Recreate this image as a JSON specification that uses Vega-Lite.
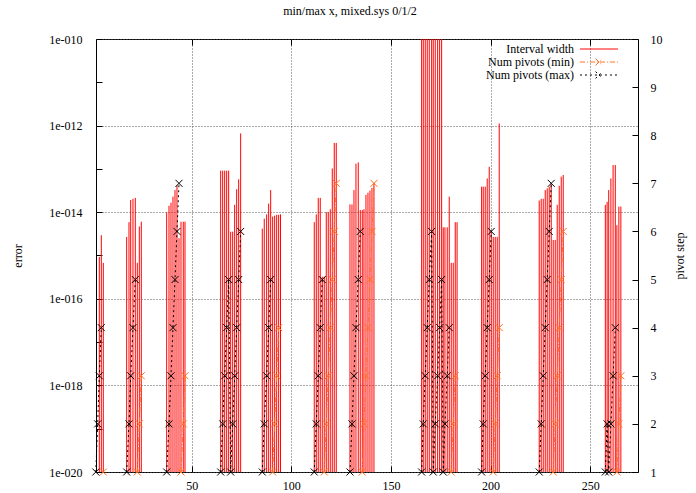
{
  "$schema": "https://vega.github.io/schema/vega-lite/v6.json",
  "width": 542,
  "height": 433,
  "autosize": {"type": "none"},
  "padding": {"left": 96, "top": 39, "right": 58, "bottom": 21},
  "background": "white",
  "config": {
    "font": "Liberation Serif",
    "view": {"stroke": "black", "strokeWidth": 1},
    "axis": {
      "labelFont": "Liberation Serif", "labelFontSize": 12, "labelColor": "black",
      "titleFont": "Liberation Serif", "titleFontSize": 12, "titleFontWeight": "normal", "titleColor": "black",
      "tickColor": "black", "domain": false, "gridColor": "#555555", "gridDash": [1, 2], "gridOpacity": 1
    },
    "legend": {
      "orient": "none", "legendX": 497, "legendY": 4, "padding": 0,
      "symbolType": "M-5,0L5,0", "symbolSize": 58, "symbolStrokeWidth": 1,
      "labelFont": "Liberation Serif", "labelFontSize": 12, "labelColor": "black",
      "labelAlign": "right", "labelOffset": -31, "rowPadding": 1
    }
  },
  "title": {"text": "min/max x, mixed.sys 0/1/2", "font": "Liberation Serif", "fontSize": 12, "fontWeight": "normal", "color": "black", "offset": 15, "dx": -17},
  "datasets": {
    "imp": [
      {"x": 3.66, "w": 9.3e-16}, {"x": 4.66, "w": 2.95e-15}, {"x": 5.66, "w": 6.76e-16},
      {"x": 17.4, "w": 2.69e-15}, {"x": 18.56, "w": 5.89e-15}, {"x": 19.41, "w": 1.91e-14}, {"x": 20.56, "w": 2.04e-14}, {"x": 21.72, "w": 2.14e-14}, {"x": 22.72, "w": 6.76e-16}, {"x": 23.73, "w": 4.68e-15}, {"x": 24.73, "w": 6.03e-15},
      {"x": 37.47, "w": 1.0e-14}, {"x": 38.63, "w": 1.41e-14}, {"x": 39.63, "w": 1.66e-14}, {"x": 40.63, "w": 2.29e-14}, {"x": 41.64, "w": 3.24e-14}, {"x": 42.64, "w": 4.17e-14}, {"x": 43.65, "w": 2.51e-15}, {"x": 44.65, "w": 6.03e-15}, {"x": 45.8, "w": 6.03e-15}, {"x": 46.66, "w": 6.03e-15},
      {"x": 64.57, "w": 9.12e-14}, {"x": 65.57, "w": 9.12e-14}, {"x": 66.58, "w": 9.12e-14}, {"x": 67.58, "w": 9.12e-14}, {"x": 68.58, "w": 9.12e-14}, {"x": 69.59, "w": 3.55e-15}, {"x": 70.59, "w": 3.55e-15}, {"x": 71.59, "w": 1.48e-14}, {"x": 72.6, "w": 3.39e-14}, {"x": 73.6, "w": 5.75e-14}, {"x": 74.6, "w": 6.61e-13},
      {"x": 85.44, "w": 4.17e-15}, {"x": 86.44, "w": 7.08e-15}, {"x": 87.65, "w": 8.91e-15}, {"x": 88.65, "w": 1.58e-14}, {"x": 89.66, "w": 3.24e-14}, {"x": 90.66, "w": 7.94e-15}, {"x": 91.66, "w": 8.32e-15}, {"x": 92.67, "w": 8.71e-15}, {"x": 93.67, "w": 8.71e-15}, {"x": 94.6, "w": 8.91e-15},
      {"x": 111.53, "w": 5.89e-15}, {"x": 112.54, "w": 8.91e-15}, {"x": 113.54, "w": 2.14e-14}, {"x": 114.54, "w": 2.14e-14}, {"x": 115.55, "w": 3.24e-16}, {"x": 116.55, "w": 3.24e-16}, {"x": 117.55, "w": 1.0e-14}, {"x": 118.56, "w": 1.0e-14}, {"x": 119.56, "w": 1.17e-14}, {"x": 120.57, "w": 1.02e-13}, {"x": 121.57, "w": 3.98e-13}, {"x": 122.57, "w": 3.98e-13},
      {"x": 129.45, "w": 1.51e-14}, {"x": 130.46, "w": 1.51e-14}, {"x": 131.46, "w": 3.24e-14}, {"x": 132.46, "w": 1.32e-13}, {"x": 133.61, "w": 1.41e-13}, {"x": 134.62, "w": 1.12e-14}, {"x": 135.62, "w": 1.12e-14}, {"x": 136.47, "w": 1.17e-14}, {"x": 137.48, "w": 2.51e-14}, {"x": 138.48, "w": 2.82e-14}, {"x": 139.48, "w": 3.16e-14}, {"x": 140.49, "w": 3.63e-14}, {"x": 141.49, "w": 4.68e-14},
      {"x": 165.42, "w": 1e-9}, {"x": 166.23, "w": 1e-9}, {"x": 167.23, "w": 1e-9}, {"x": 168.23, "w": 1e-9}, {"x": 169.24, "w": 1e-9}, {"x": 170.44, "w": 1e-9}, {"x": 171.24, "w": 1e-9}, {"x": 172.25, "w": 1e-9}, {"x": 173.45, "w": 1e-9}, {"x": 174.45, "w": 1e-9}, {"x": 175.46, "w": 1e-9}, {"x": 176.26, "w": 4.47e-15}, {"x": 177.12, "w": 4.47e-15}, {"x": 178.27, "w": 4.47e-15}, {"x": 179.27, "w": 2.29e-14}, {"x": 180.28, "w": 6.76e-16}, {"x": 181.28, "w": 6.76e-16}, {"x": 182.28, "w": 5.89e-15}, {"x": 183.2, "w": 5.89e-15},
      {"x": 195.52, "w": 3.89e-14}, {"x": 196.33, "w": 3.89e-14}, {"x": 197.33, "w": 3.89e-14}, {"x": 198.33, "w": 6.03e-14}, {"x": 199.34, "w": 1.12e-13}, {"x": 200.34, "w": 3.89e-15}, {"x": 201.35, "w": 2.69e-15}, {"x": 202.35, "w": 2.69e-15}, {"x": 203.35, "w": 2.69e-15}, {"x": 204.36, "w": 1.12e-12},
      {"x": 224.43, "w": 1.86e-14}, {"x": 225.43, "w": 2.04e-14}, {"x": 226.44, "w": 2.04e-14}, {"x": 227.44, "w": 3.24e-14}, {"x": 228.44, "w": 3.55e-14}, {"x": 229.45, "w": 3.89e-14}, {"x": 230.45, "w": 4.68e-14}, {"x": 231.45, "w": 2.29e-15}, {"x": 232.46, "w": 2.29e-15}, {"x": 233.46, "w": 1.48e-14}, {"x": 234.47, "w": 4.07e-14}, {"x": 235.47, "w": 6.61e-14}, {"x": 236.47, "w": 7.24e-14},
      {"x": 257.6, "w": 1.48e-14}, {"x": 258.5, "w": 1.74e-14}, {"x": 259.3, "w": 3.24e-14}, {"x": 260.4, "w": 6.03e-14}, {"x": 261.5, "w": 1.23e-13}, {"x": 262.6, "w": 1.23e-13}, {"x": 263.4, "w": 5.01e-15}, {"x": 264.4, "w": 1.35e-14}, {"x": 265.4, "w": 1.35e-14}
    ],
    "piv": [
      {"g": 1, "s": "max", "x": 1.9, "p": 1}, {"g": 1, "s": "max", "x": 2.85, "p": 2}, {"g": 1, "s": "max", "x": 3.66, "p": 3}, {"g": 1, "s": "max", "x": 4.66, "p": 4},
      {"g": 1, "s": "min", "x": 5.66, "p": 1},
      {"g": 2, "s": "max", "x": 17.4, "p": 1}, {"g": 2, "s": "max", "x": 18.56, "p": 2}, {"g": 2, "s": "max", "x": 19.41, "p": 3}, {"g": 2, "s": "max", "x": 20.56, "p": 4}, {"g": 2, "s": "max", "x": 21.72, "p": 5},
      {"g": 2, "s": "min", "x": 22.72, "p": 1}, {"g": 2, "s": "min", "x": 23.73, "p": 2}, {"g": 2, "s": "min", "x": 24.73, "p": 3},
      {"g": 3, "s": "max", "x": 37.47, "p": 1}, {"g": 3, "s": "max", "x": 38.63, "p": 2}, {"g": 3, "s": "max", "x": 39.63, "p": 3}, {"g": 3, "s": "max", "x": 40.63, "p": 4}, {"g": 3, "s": "max", "x": 41.64, "p": 5}, {"g": 3, "s": "max", "x": 42.64, "p": 6}, {"g": 3, "s": "max", "x": 43.65, "p": 7},
      {"g": 3, "s": "min", "x": 44.65, "p": 1}, {"g": 3, "s": "min", "x": 45.8, "p": 2}, {"g": 3, "s": "min", "x": 46.66, "p": 3},
      {"g": 4, "s": "max", "x": 64.57, "p": 1}, {"g": 4, "s": "max", "x": 65.57, "p": 2}, {"g": 4, "s": "max", "x": 66.58, "p": 3}, {"g": 4, "s": "max", "x": 67.58, "p": 4}, {"g": 4, "s": "max", "x": 68.58, "p": 5}, {"g": 4, "s": "max", "x": 69.59, "p": 1}, {"g": 4, "s": "max", "x": 70.59, "p": 2}, {"g": 4, "s": "max", "x": 71.59, "p": 3}, {"g": 4, "s": "max", "x": 72.6, "p": 4}, {"g": 4, "s": "max", "x": 73.6, "p": 5}, {"g": 4, "s": "max", "x": 74.6, "p": 6},
      {"g": 5, "s": "max", "x": 85.44, "p": 1}, {"g": 5, "s": "max", "x": 86.44, "p": 2}, {"g": 5, "s": "max", "x": 87.65, "p": 3}, {"g": 5, "s": "max", "x": 88.65, "p": 4}, {"g": 5, "s": "max", "x": 89.66, "p": 5},
      {"g": 5, "s": "min", "x": 90.66, "p": 1}, {"g": 5, "s": "min", "x": 91.66, "p": 2}, {"g": 5, "s": "min", "x": 92.67, "p": 3}, {"g": 5, "s": "min", "x": 93.67, "p": 4},
      {"g": 6, "s": "max", "x": 111.53, "p": 1}, {"g": 6, "s": "max", "x": 112.54, "p": 2}, {"g": 6, "s": "max", "x": 113.54, "p": 3}, {"g": 6, "s": "max", "x": 114.54, "p": 4}, {"g": 6, "s": "max", "x": 115.55, "p": 5},
      {"g": 6, "s": "min", "x": 116.55, "p": 1}, {"g": 6, "s": "min", "x": 117.55, "p": 2}, {"g": 6, "s": "min", "x": 118.56, "p": 3}, {"g": 6, "s": "min", "x": 119.56, "p": 4}, {"g": 6, "s": "min", "x": 120.57, "p": 5}, {"g": 6, "s": "min", "x": 121.57, "p": 6}, {"g": 6, "s": "min", "x": 122.57, "p": 7},
      {"g": 7, "s": "max", "x": 129.45, "p": 1}, {"g": 7, "s": "max", "x": 130.46, "p": 2}, {"g": 7, "s": "max", "x": 131.46, "p": 3}, {"g": 7, "s": "max", "x": 132.46, "p": 4}, {"g": 7, "s": "max", "x": 133.61, "p": 5}, {"g": 7, "s": "max", "x": 134.62, "p": 6},
      {"g": 7, "s": "min", "x": 135.62, "p": 1}, {"g": 7, "s": "min", "x": 136.47, "p": 2}, {"g": 7, "s": "min", "x": 137.48, "p": 3}, {"g": 7, "s": "min", "x": 138.48, "p": 4}, {"g": 7, "s": "min", "x": 139.48, "p": 5}, {"g": 7, "s": "min", "x": 140.49, "p": 6}, {"g": 7, "s": "min", "x": 141.49, "p": 7},
      {"g": 8, "s": "max", "x": 165.42, "p": 1}, {"g": 8, "s": "max", "x": 166.23, "p": 2}, {"g": 8, "s": "max", "x": 167.23, "p": 3}, {"g": 8, "s": "max", "x": 168.23, "p": 4}, {"g": 8, "s": "max", "x": 169.24, "p": 5}, {"g": 8, "s": "max", "x": 170.44, "p": 6}, {"g": 8, "s": "max", "x": 171.24, "p": 1}, {"g": 8, "s": "max", "x": 172.25, "p": 2}, {"g": 8, "s": "max", "x": 173.45, "p": 3}, {"g": 8, "s": "max", "x": 174.45, "p": 4}, {"g": 8, "s": "max", "x": 175.46, "p": 5}, {"g": 8, "s": "max", "x": 176.26, "p": 1}, {"g": 8, "s": "max", "x": 177.12, "p": 2}, {"g": 8, "s": "max", "x": 178.27, "p": 3}, {"g": 8, "s": "max", "x": 179.27, "p": 4},
      {"g": 8, "s": "min", "x": 180.28, "p": 1}, {"g": 8, "s": "min", "x": 181.28, "p": 2}, {"g": 8, "s": "min", "x": 182.28, "p": 3},
      {"g": 9, "s": "max", "x": 195.52, "p": 1}, {"g": 9, "s": "max", "x": 196.33, "p": 2}, {"g": 9, "s": "max", "x": 197.33, "p": 3}, {"g": 9, "s": "max", "x": 198.33, "p": 4}, {"g": 9, "s": "max", "x": 199.34, "p": 5}, {"g": 9, "s": "max", "x": 200.34, "p": 6},
      {"g": 9, "s": "min", "x": 201.35, "p": 1}, {"g": 9, "s": "min", "x": 202.35, "p": 2}, {"g": 9, "s": "min", "x": 203.35, "p": 3}, {"g": 9, "s": "min", "x": 204.36, "p": 4},
      {"g": 10, "s": "max", "x": 224.43, "p": 1}, {"g": 10, "s": "max", "x": 225.43, "p": 2}, {"g": 10, "s": "max", "x": 226.44, "p": 3}, {"g": 10, "s": "max", "x": 227.44, "p": 4}, {"g": 10, "s": "max", "x": 228.44, "p": 5}, {"g": 10, "s": "max", "x": 229.45, "p": 6}, {"g": 10, "s": "max", "x": 230.45, "p": 7},
      {"g": 10, "s": "min", "x": 231.45, "p": 1}, {"g": 10, "s": "min", "x": 232.46, "p": 2}, {"g": 10, "s": "min", "x": 233.46, "p": 3}, {"g": 10, "s": "min", "x": 234.47, "p": 4}, {"g": 10, "s": "min", "x": 235.47, "p": 5}, {"g": 10, "s": "min", "x": 236.47, "p": 6},
      {"g": 11, "s": "max", "x": 257.6, "p": 1}, {"g": 11, "s": "max", "x": 258.5, "p": 2}, {"g": 11, "s": "max", "x": 259.3, "p": 1}, {"g": 11, "s": "max", "x": 260.4, "p": 2}, {"g": 11, "s": "max", "x": 261.5, "p": 3}, {"g": 11, "s": "max", "x": 262.6, "p": 4},
      {"g": 11, "s": "min", "x": 263.4, "p": 1}, {"g": 11, "s": "min", "x": 264.4, "p": 2}, {"g": 11, "s": "min", "x": 265.4, "p": 3}
    ]
  },
  "layer": [
    {
      "data": {"name": "imp"},
      "mark": {"type": "rule", "clip": true, "strokeWidth": 1, "color": "#ff0000"},
      "encoding": {
        "x": {
          "field": "x", "type": "quantitative",
          "scale": {"domain": [2, 274], "nice": false, "zero": false},
          "axis": {"orient": "bottom", "values": [50, 100, 150, 200, 250], "grid": true, "tickSize": -6, "labelPadding": 14, "title": null}
        },
        "y": {
          "field": "w", "type": "quantitative",
          "scale": {"type": "log", "domain": [1e-20, 1e-10], "nice": false},
          "axis": {
            "orient": "left", "title": "error", "titlePadding": 24,
            "values": [1e-20, 1e-19, 1e-18, 1e-17, 1e-16, 1e-15, 1e-14, 1e-13, 1e-12, 1e-11, 1e-10],
            "grid": true,
            "gridOpacity": {"condition": {"test": "round(log(datum.value)/LN10) % 2 !== 0", "value": 0}, "value": 1},
            "labelExpr": "(round(log(datum.value)/LN10) % 2 === 0) ? '1e-0' + format(-round(log(datum.value)/LN10), '02d') : ''",
            "tickSize": -6, "labelPadding": 20
          }
        },
        "y2": {"datum": 1e-20},
        "color": {
          "datum": "Interval width",
          "scale": {"domain": ["Interval width", "Num pivots (min)", "Num pivots (max)"], "range": ["#ff0000", "#ff7020", "#000000"]},
          "legend": {
            "title": null,
            "encode": {
              "symbols": {
                "update": {
                  "shape": {"signal": "datum.value === 'Interval width' ? 'M-5,0L5,0' : 'M-5,0L5,0M-0.9,-0.9L0.9,0.9M-0.9,0.9L0.9,-0.9'"},
                  "strokeDash": {"signal": "datum.value === 'Num pivots (min)' ? [5,2,1,2] : (datum.value === 'Num pivots (max)' ? [2,3] : [1,0])"},
                  "stroke": {"signal": "datum.value === 'Interval width' ? '#ff2020' : (datum.value === 'Num pivots (min)' ? '#ff7020' : '#000000')"},
                  "fill": {"value": "transparent"},
                  "strokeWidth": {"value": 1},
                  "opacity": {"value": 1}
                }
              }
            }
          }
        }
      }
    },
    {
      "data": {"name": "piv"},
      "encoding": {
        "x": {
          "field": "x", "type": "quantitative",
          "scale": {"domain": [2, 274], "nice": false, "zero": false},
          "axis": {"orient": "top", "values": [50, 100, 150, 200, 250], "labels": false, "grid": false, "tickSize": -6, "title": null}
        },
        "y": {
          "field": "p", "type": "quantitative",
          "scale": {"domain": [1, 10], "nice": false, "zero": false},
          "axis": {"orient": "right", "title": "pivot step", "titleAngle": 270, "titlePadding": 24, "values": [1, 2, 3, 4, 5, 6, 7, 8, 9, 10], "grid": false, "tickSize": -6, "labelPadding": 18}
        },
        "detail": {"field": "g"}
      },
      "layer": [
        {"transform": [{"filter": "datum.s === 'min'"}], "mark": {"type": "line", "color": "#ff7020", "strokeWidth": 1, "strokeDash": [5, 2, 1, 2]}},
        {"transform": [{"filter": "datum.s === 'min'"}], "mark": {"type": "point", "shape": "M-1,-1L1,1M-1,1L1,-1", "size": 49, "filled": false, "color": "#ff7020", "strokeWidth": 1, "opacity": 1}},
        {"transform": [{"filter": "datum.s === 'max'"}], "mark": {"type": "line", "color": "#000000", "strokeWidth": 1, "strokeDash": [2, 3]}},
        {"transform": [{"filter": "datum.s === 'max'"}], "mark": {"type": "point", "shape": "M-1,-1L1,1M-1,1L1,-1", "size": 49, "filled": false, "color": "#000000", "strokeWidth": 1, "opacity": 1}}
      ]
    }
  ],
  "resolve": {"scale": {"y": "independent"}, "axis": {"x": "independent", "y": "independent"}}
}
